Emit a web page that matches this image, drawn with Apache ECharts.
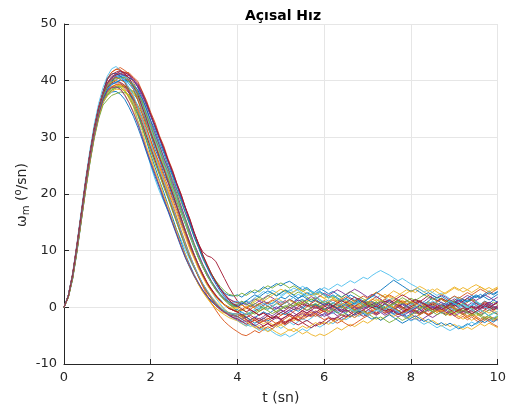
<!DOCTYPE html>
<html><head><meta charset="utf-8">
<script src="https://cdn.jsdelivr.net/npm/echarts@6/dist/echarts.min.js"></script>
<style>html,body{margin:0;padding:0;background:#fff}#c{width:509px;height:410px}</style>
</head><body><div id="c"></div>
<script>
const t = [
0,0.1,0.2,0.3,0.4,0.5,0.6,0.7,0.8,0.9,
1,1.1,1.2,1.3,1.4,1.5,1.6,1.7,1.8,1.9,
2,2.1,2.2,2.3,2.4,2.5,2.6,2.7,2.8,2.9,
3,3.1,3.2,3.3,3.4,3.5,3.6,3.7,3.8,3.9,
4,4.1,4.2,4.3,4.4,4.5,4.6,4.7,4.8,4.9,
5,5.1,5.2,5.3,5.4,5.5,5.6,5.7,5.8,5.9,
6,6.1,6.2,6.3,6.4,6.5,6.6,6.7,6.8,6.9,
7,7.1,7.2,7.3,7.4,7.5,7.6,7.7,7.8,7.9,
8,8.1,8.2,8.3,8.4,8.5,8.6,8.7,8.8,8.9,
9,9.1,9.2,9.3,9.4,9.5,9.6,9.7,9.8,9.9,
10];
const w1 = [0,2,5.6,10.6,16.2,21.8,26.8,31.2,34.8,37.4,
39.4,40.1,40.8,40.6,40.5,39.4,38.5,36.6,34.9,32.5,
30.4,27.9,26.1,23.6,22,19.5,17.7,15.1,13.2,10.8,
9.2,7.1,5.8,4.1,3.2,1.9,1.4,0.4,0.1,-0.5,
-0.4,-0.9,-1.3,-1.1,-0.6,-0.2,0.4,0.9,0.6,1.2,
1.8,1.5,2.1,1.7,1.1,1.4,0.8,0.3,0.6,-0.1,
-0.5,0.2,0.7,1.3,0.9,1.6,2.2,1.8,1.1,0.6,
1,0.4,-0.2,0.3,-0.4,-0.9,-0.5,0.1,0.6,0.2,
0.9,1.4,1,0.5,1.1,1.7,1.3,0.8,0.2,0.7,
1.2,0.6,0.1,-0.4,0.2,0.8,0.5,1.1,0.7,1.3,
0.9];
const w2 = [0,2.1,5.9,11.1,16.7,22.3,27.3,31.8,35.3,38,
40.3,41.5,42,42.3,41.8,41.2,39.7,38.2,36.1,33.6,
31.3,29,26.7,24.5,22.3,20.2,17.9,15.6,13.4,11.1,
9.3,7.4,5.8,4.3,3.1,2,1.1,0.5,-0.2,-0.5,
-0.8,-1.4,-1.1,-1.8,-2.3,-1.9,-2.5,-2.1,-1.6,-2,
-1.4,-0.9,-1.3,-0.7,-0.2,-0.6,0.1,0.5,0.1,0.7,
1.2,0.8,0.3,0.9,0.4,-0.2,0.3,-0.3,-0.8,-0.4,
-1,-0.5,-1.1,-0.6,-0.1,0.4,0,0.6,1.1,0.7,
0.2,-0.3,0.3,-0.2,-0.7,-0.3,-0.9,-0.4,0.1,-0.4,
0.2,0.7,0.3,0.9,1.4,1,0.5,1,0.6,0.1,
-0.3];
const w3 = [0,1.9,5.3,10.2,15.7,21.2,26.1,30.6,34,36.7,
38.1,38.9,39.1,38.5,37.6,36.1,34.6,32.5,30.5,28,
25.9,23.8,21.5,19.5,17.2,15.2,12.9,10.9,8.8,7.1,
5.5,4.1,2.8,1.7,0.7,-0.1,-0.8,-1.3,-1.8,-2.1,
-2.4,-2.9,-3.3,-3,-3.6,-3.9,-3.4,-3.8,-3.2,-2.7,
-3.1,-2.6,-2,-2.4,-1.8,-1.3,-1.7,-1.1,-0.6,-1,
-0.5,0.1,-0.4,0.2,0.7,0.3,0.9,0.4,-0.1,0.4,
0.9,1.5,1.1,1.7,2.3,1.8,1.3,0.8,1.3,0.7,
0.2,0.7,0.3,-0.3,0.2,-0.4,-0.9,-0.4,-1,-0.6,
-1.1,-1.7,-1.2,-1.8,-2.3,-1.8,-2.4,-1.9,-1.4,-2,
-1.6];
const w4 = [0,2,5.5,10.5,16,21.6,26.6,31,34.6,37.2,
38.7,39.9,40.1,40.7,40.2,40.1,38.8,38.1,35.9,34.3,
31.7,30.1,27.6,25.9,23.5,21.8,19.3,17.5,15,13.2,
10.7,9.1,7.1,5.9,4.3,3.3,2.1,1.5,0.6,0.2,
0.3,0.8,0.4,1,1.5,1.1,1.6,2.1,1.7,1.2,
0.7,1.2,0.6,0.1,0.5,-0.1,-0.6,-0.2,0.3,-0.3,
-0.8,-1.3,-0.9,-1.5,-1,-0.5,-0.9,-0.4,0.1,-0.3,
0.2,0.8,0.4,0.9,1.4,1,0.5,0,0.5,-0.1,
0.4,0.9,0.5,1,1.6,2.1,1.7,2.2,1.8,1.3,
0.8,1.3,0.9,0.4,-0.1,0.3,-0.2,0.4,0.9,0.5,
1];
const w5 = [0,1.8,5.2,10,15.5,21,25.9,30.3,33.8,36.4,
37.6,38.4,38.8,39.1,38.8,38.6,37.7,36.7,35,33.1,
31.1,29.2,27.1,25.1,23.1,21.1,19,16.9,14.8,12.7,
10.7,8.8,7.2,5.6,4.4,3.1,2.2,1.3,0.7,0.2,
0.1,0.6,1.1,0.7,1.3,1.8,1.4,2,2.5,2.1,
2.6,3.1,2.7,2.2,2.7,2.3,1.8,1.3,1.8,1.2,
0.8,0.3,0.8,0.4,-0.1,0.4,-0.1,-0.6,-0.2,0.3,
0.8,0.4,1,0.5,0.1,-0.4,0,-0.5,-1,-0.6,
-0.2,0.3,-0.1,0.4,1,0.6,1.1,1.6,1.2,0.7,
1.2,1.8,1.4,0.9,1.4,1,0.5,0,0.4,0.9,
0.5];
const w6 = [0,2.2,6.1,11.4,17.2,22.8,27.9,32.4,36,38.8,
40.8,42.1,42.5,41.8,40.2,38,35.6,33,30.2,27.6,
25,22.6,20.5,18.7,17,15.3,13.6,11.9,10.1,8.4,
6.9,5.5,4.1,2.9,1.7,0.7,-0.2,-0.9,-1.5,-1.9,
-2.3,-2.8,-3.3,-2.9,-3.5,-4.1,-3.6,-4.2,-3.8,-3.2,
-3.7,-3.2,-2.6,-3.1,-2.5,-2,-2.4,-1.9,-1.3,-1.8,
-1.2,-0.7,-1.1,-0.5,0,-0.4,0.2,0.7,0.3,0.8,
1.4,2,1.6,2.2,1.8,1.2,1.7,1.1,0.6,1.1,
0.5,1,0.5,0,-0.5,-0.1,-0.6,-0.2,0.3,-0.1,
-0.6,-0.2,0.4,0,0.5,1.1,0.6,0.1,0.6,0.2,
-0.2];
const w7 = [0,2,5.7,10.8,16.4,22,27,31.4,35,37.6,
39.6,40.6,41.1,41.2,40.9,40,38.9,37.1,35.3,33,
30.9,28.6,26.6,24.3,22.4,20.1,18.1,15.7,13.6,11.3,
9.4,7.5,5.9,4.4,3.2,2.2,1.2,0.5,-0.1,-0.5,
-0.9,-1.5,-2.1,-2.6,-2.2,-2.8,-3.3,-2.9,-3.4,-3,
-2.5,-2.9,-2.3,-1.8,-2.2,-1.6,-1.1,-1.5,-0.9,-0.4,
-0.8,-0.2,0.3,-0.1,0.5,1,0.6,0.1,0.6,1.1,
0.6,0.1,-0.4,0,-0.6,-1.1,-0.6,-1.2,-0.8,-0.3,
-0.7,-0.2,0.3,-0.2,0.4,0.9,0.5,0,0.5,-0.1,
0.4,-0.1,-0.6,-0.2,-0.8,-0.3,0.2,-0.3,0.3,-0.2,
0.2];
const w8 = [0,1.7,5,9.8,15.3,20.7,25.7,30.1,33.5,36.1,
37.4,38,38.1,37.6,36.7,35.3,33.7,31.8,29.7,27.4,
25.3,23.1,21.1,18.9,16.9,14.8,12.7,10.6,8.7,7,
5.5,4.1,3,2,1.2,0.5,-0.1,-0.6,-1,-1.3,
-1.6,-1.2,-1.7,-2.2,-1.8,-1.3,-0.8,-1.2,-0.7,-0.2,
0.3,0.8,1.4,1,1.6,2.1,2.6,2.2,2.8,3.3,
2.9,2.4,2.8,2.3,1.8,2.3,1.7,1.2,1.6,1.1,
0.6,1.1,0.6,0.1,0.6,1.2,0.8,0.3,-0.2,0.2,
-0.3,-0.8,-0.3,-0.9,-1.4,-1,-0.5,-1,-0.5,0,
0.5,0.1,0.6,1.2,1.7,2.2,1.8,2.4,2.9,2.4,
2.8];
const w9 = [0,2.1,5.8,10.9,16.5,22.1,27.1,31.5,35.1,37.8,
39.6,40.7,41.2,41.7,41.5,41.4,40.6,39.9,38.2,36.5,
34.4,32.6,30.3,28.5,26.2,24.3,21.9,20,17.6,15.6,
13.2,11.3,9.2,7.6,5.9,4.6,3.3,2.4,1.5,1,
0.8,0.4,-0.1,0.4,-0.2,-0.7,-0.3,0.2,-0.3,-0.9,
-1.4,-1,-1.5,-2,-1.6,-2.1,-1.7,-1.2,-1.6,-1.1,
-0.6,-1.1,-0.6,-0.1,-0.5,0.1,0.6,0.2,0.7,1.2,
0.8,1.3,1.9,1.4,0.9,1.4,0.9,0.4,0,-0.5,
-0.1,-0.6,-1.1,-0.7,-1.3,-0.8,-0.3,-0.8,-1.4,-0.9,
-1.5,-2,-1.6,-2.2,-1.7,-2.3,-2.8,-2.3,-1.8,-2.4,
-2];
const w10 = [0,1.9,5.4,10.3,15.8,21.3,26.3,30.7,34.2,36.8,
37.9,38.7,39,39.4,39.1,38.8,37.9,36.9,35,33.2,
31.1,29,27.1,24.9,23,20.9,18.9,16.7,14.8,12.6,
10.6,8.8,7,5.7,4.2,3.1,2,1.3,0.5,0,
-0.1,-0.6,-0.2,0.3,-0.1,0.5,1,0.6,1.1,1.6,
1.2,0.7,1.2,0.8,0.3,0.8,1.3,0.9,1.5,2,
1.6,2.1,1.7,1.2,1.6,1.1,0.6,1,0.5,1.1,
1.6,2.1,2.7,2.2,1.8,2.3,2.9,2.5,2,2.5,
3,2.6,3.2,2.7,2.2,2.7,3.3,2.8,2.4,2.9,
3.4,3,3.5,3.1,2.6,3.1,3.6,3.2,2.7,3.2,
3.6];
const w11 = [0,1.9,5.4,10.4,15.9,21.4,26.4,30.8,34.4,37,
38.6,39.5,39.6,39.6,38.7,37.8,36.2,34.6,32.2,30.2,
27.9,25.9,23.6,21.6,19.4,17.3,15,12.9,10.7,8.9,
7.2,5.6,4.1,2.8,1.7,0.7,-0.2,-0.8,-1.3,-1.8,
-2.2,-2.6,-2.2,-2.8,-3.3,-2.8,-2.3,-2.8,-2.3,-1.8,
-2.2,-1.7,-1.2,-1.6,-1.1,-0.6,-1,-0.5,-1,-1.5,
-1.1,-1.6,-2.1,-1.7,-2.2,-1.8,-1.3,-1.8,-1.3,-0.8,
-1.2,-0.7,-0.2,-0.6,-1.1,-0.7,-1.2,-1.7,-1.3,-1.8,
-2.3,-1.9,-2.4,-1.9,-1.4,-1.8,-1.3,-0.8,-1.2,-0.7,
-0.2,-0.6,-1.1,-0.7,-1.2,-0.8,-1.3,-0.9,-0.4,-0.8,
-1.2];
const w12 = [0,1.8,5.1,9.9,15.3,20.7,25.6,29.9,33.3,35.7,
36.6,37.4,37.7,38,37.9,37.5,36.8,35.7,34.2,32.4,
30.5,28.6,26.6,24.6,22.7,20.7,18.6,16.6,14.6,12.5,
10.6,8.7,7.1,5.6,4.3,3.1,2.1,1.3,0.6,0,
-0.7,-0.3,-0.8,-1.3,-0.9,-0.4,0.1,-0.3,0.2,0.7,
0.3,-0.2,0.3,0.9,0.5,0,-0.5,-0.1,0.4,0,
0.5,1,1.6,2.1,1.7,2.3,2.8,2.4,1.9,1.5,
1,0.5,0.9,0.4,-0.1,0.3,-0.2,-0.7,-0.3,0.2,
-0.3,-0.8,-0.4,0.1,0.6,0.2,0.7,0.3,-0.2,-0.7,
-1.2,-0.8,-1.3,-0.9,-0.4,-0.9,-1.5,-1,-1.5,-2,
-1.6];
const w13 = [0,2.1,5.7,10.8,16.4,21.9,27,31.4,35,37.6,
39.5,40.6,41,41.3,40.7,40.1,38.7,37.2,35.1,33.1,
30.8,28.8,26.4,24.5,22.2,20.3,17.9,15.9,13.5,11.5,
9.3,7.4,5.6,4.1,2.8,1.6,0.6,-0.3,-1,-1.5,
-1.9,-2.4,-2.9,-3.4,-3,-3.6,-4.1,-3.7,-4.3,-4.8,
-5.1,-4.7,-5.2,-4.8,-4.3,-3.8,-4.2,-3.6,-3.1,-3.5,
-3,-2.5,-2.9,-2.3,-1.8,-2.2,-1.7,-1.2,-1.6,-1.1,
-0.6,-1,-0.5,0,0.5,0.1,0.6,1.1,0.7,0.2,
0.7,0.2,-0.3,0.1,-0.4,-0.9,-0.5,-1,-0.6,-0.1,
-0.6,-0.2,0.3,-0.1,0.4,0.9,0.4,-0.1,0.3,-0.2,
0.3];
const w14 = [0,2,5.6,10.7,16.3,21.9,26.9,31.3,34.9,37.5,
39.1,40,40.6,40.8,41,40.5,40.1,39,37.6,35.7,
33.8,31.8,29.9,27.8,25.8,23.7,21.7,19.5,17.5,15.2,
13.1,11.2,9.8,9.1,8.8,8.1,6.6,5.1,3.6,2.3,
1.1,0.5,-0.1,-0.5,-0.9,-1.4,-1,-1.5,-2,-1.6,
-2.1,-2.6,-2.2,-2.7,-3.1,-2.7,-3.2,-3.6,-3.1,-2.6,
-3,-2.4,-1.9,-2.3,-1.8,-1.3,-1.7,-1.1,-0.6,-1,
-0.5,0,-0.4,0.1,0.7,0.3,0.8,1.3,0.9,0.4,
0.9,1.4,1,1.5,2.1,1.6,1.1,1.6,1.2,0.7,
0.2,0.7,0.2,-0.3,0.1,-0.4,-0.9,-0.5,0,-0.5,
-0.1];
const w15 = [0,2,5.5,10.5,16.1,21.7,26.7,31.1,34.7,37.3,
39,39.9,40.6,40.7,41,40.5,40.1,38.9,37.7,35.7,
33.8,31.7,29.8,27.6,25.7,23.5,21.6,19.3,17.4,15.1,
13,10.9,9.1,7.2,5.8,4.4,3.4,2.5,2.1,2,
2.2,1.8,2.4,2.9,2.5,3,3.6,3.2,3.7,4.2,
3.8,4.3,4.6,4.1,3.6,3.1,3.5,2.9,2.4,2.8,
2.3,1.8,2.2,1.7,1.2,1.6,1.1,0.6,1,0.5,
0,0.5,0.1,-0.4,0,-0.6,-1.1,-0.6,-1.1,-1.6,
-1.2,-0.7,-1.2,-0.8,-0.3,0.2,-0.2,0.3,0.8,0.4,
0.9,1.5,1,1.6,2.1,1.7,2.3,1.8,1.3,1.8,
2.3];
const w16 = [0,2.1,5.9,11.1,16.7,22.3,27.3,31.7,35.3,38,
40.4,41.5,42,41.9,41.2,40,38.5,36.6,34.3,31.9,
29.4,27.1,24.9,22.6,20.4,18.2,15.9,13.6,11.4,9.3,
7.3,5.4,3.7,2.1,0.7,-0.5,-1.6,-2.5,-3.2,-3.8,
-4.3,-4.8,-5,-4.6,-4.1,-4.5,-3.9,-3.4,-3.8,-3.2,
-2.7,-3.1,-2.6,-2,-2.4,-1.8,-1.3,-1.7,-1.2,-0.7,
-0.2,-0.6,-0.1,0.4,0,0.6,0.1,-0.4,0,0.5,
0.1,-0.4,-0.9,-0.5,-1,-0.6,-0.1,-0.5,-1.1,-0.7,
-1.2,-1.7,-1.3,-0.8,-1.2,-0.7,-0.2,-0.6,-0.1,0.4,
0,-0.5,-1,-1.5,-1.1,-1.6,-2.1,-1.7,-2.2,-1.8,
-2.3];
const w17 = [0,1.9,5.3,10.2,15.7,21.2,26.2,30.6,34.1,36.7,
38.3,39,39.3,39.1,38.3,37.3,35.8,34.1,31.9,29.8,
27.6,25.6,23.4,21.4,19.2,17.2,14.9,12.9,10.7,8.9,
7.1,5.6,4.1,3,1.9,1,0.3,-0.4,-0.9,-1.3,
-1.7,-1.3,-1.8,-2.3,-1.9,-2.4,-2.9,-2.5,-3,-3.5,
-3.1,-3.6,-4.1,-3.7,-4.2,-4.7,-4.3,-4.8,-5.1,-4.7,
-5,-4.6,-4.1,-3.6,-4,-3.5,-3,-3.4,-2.9,-2.4,
-2.8,-2.3,-1.8,-2.2,-1.7,-1.2,-1.6,-1.1,-1.5,-2,
-1.6,-2.1,-1.7,-2.2,-2.7,-2.3,-2.8,-3.3,-2.9,-3.4,
-3,-3.5,-3.9,-3.5,-3.9,-3.4,-2.9,-3.3,-2.8,-3.2,
-3.6];
const w18 = [0,2,5.6,10.6,16.2,21.8,26.8,31.2,34.8,37.5,
39.3,40.3,40.7,41.1,41,40.9,40.1,39.3,37.6,36,
33.8,32,29.8,28,25.7,23.9,21.6,19.7,17.4,15.4,
13,11.1,9,7.4,5.8,4.5,3.2,2.3,1.5,1.1,
0.9,0.5,1,0.6,0.1,0.6,1.1,0.7,0.2,-0.3,
0.2,-0.2,0.3,0.8,1.3,0.9,1.4,1.9,1.5,2,
2.5,2.1,2.6,3.1,2.7,2.2,2.7,3.2,2.8,2.3,
1.8,2.3,1.9,1.4,0.9,1.3,0.8,0.3,0.7,0.2,
-0.3,0.1,-0.4,-0.9,-0.5,0,-0.4,0.1,0.6,0.2,
0.7,1.2,0.8,0.3,0.8,0.4,-0.1,0.4,0.9,0.5,
1];
const w19 = [0,1.8,5.2,10.1,15.6,21,26,30.3,33.8,36.3,
37.5,38.3,38.7,38.9,39,38.6,38.1,37.2,35.8,34.1,
32.3,30.4,28.5,26.5,24.6,22.6,20.6,18.6,16.6,14.5,
12.5,10.6,8.8,7.3,5.9,4.7,3.7,2.9,2.3,2.1,
2,2.5,2.1,2.6,3.1,2.7,3.3,3.8,3.4,3.9,
4.3,3.9,3.4,3.8,3.3,2.8,3.2,2.7,2.2,2.6,
2.1,1.6,2,1.5,1,1.4,0.9,1.3,0.8,0.3,
0.7,0.2,-0.3,0.1,-0.4,0,0.5,1,0.6,1.1,
1.6,1.2,1.7,2.2,1.8,1.3,1.8,1.4,0.9,1.3,
0.8,0.3,0.7,0.2,-0.3,0.1,-0.4,-0.9,-0.5,0,
-0.4];
const w20 = [0,2,5.5,10.5,16,21.6,26.6,31,34.6,37.2,
39.1,40.2,40.6,41,40.7,40.4,39.4,38.4,36.5,34.6,
32.2,30.3,28,26.1,23.9,22,19.7,17.8,15.4,13.5,
11.1,9.4,7.5,6.1,4.6,3.5,2.4,1.7,1,0.8,
1.1,0.7,1.2,0.7,0.2,-0.3,0.1,-0.4,0.1,0.6,
1.1,0.7,1.3,1.8,2.3,1.9,2.4,2.9,2.5,3,
3.5,3.1,3.6,4.1,3.7,4.2,4.7,4.3,4.8,5.3,
5,5.6,6.1,6.5,6.1,5.7,5.2,4.7,5.1,4.6,
4.1,3.7,3.2,2.7,3.1,2.6,2.1,2.5,2,1.5,
1.9,1.4,0.9,1.3,0.8,0.3,0.7,0.2,-0.3,0.1,
-0.4];
const w21 = [0,1.9,5.4,10.3,15.9,21.4,26.4,30.8,34.3,37,
38.8,39.6,40,39.7,39.2,37.9,36.7,34.7,32.7,30.3,
28.3,26,24,21.7,19.8,17.4,15.4,13,11.1,8.9,
7.3,5.6,4.1,2.8,1.7,0.8,-0.1,-0.8,-1.4,-1.8,
-2,-2.5,-3,-2.6,-3.2,-3.7,-3.3,-2.8,-3.3,-2.8,
-2.3,-2.8,-2.3,-1.8,-2.2,-2.7,-2.3,-2.8,-3.3,-2.9,
-2.4,-1.9,-2.3,-1.8,-1.3,-1.7,-1.2,-0.7,-1.1,-1.6,
-1.2,-0.7,-1.1,-0.6,-0.1,-0.5,0,0.5,0.1,-0.4,
-0.9,-0.5,-1,-0.5,0,-0.4,0.1,-0.3,-0.8,-1.3,
-0.9,-0.4,-0.8,-0.3,0.2,-0.2,0.3,0.8,0.4,-0.1,
0.3];
const w22 = [0,2.1,5.8,11,16.6,22.2,27.2,31.6,35.2,37.9,
40.4,41.2,41.3,40.8,39.7,38.2,36.4,34.2,31.9,29.4,
26.9,24.7,22.4,20.3,18,15.9,13.6,11.5,9.3,7.5,
5.8,4.3,3,1.9,1,0.3,-0.3,-0.7,-1,-1.3,
-1.6,-2.1,-1.7,-2.3,-2.8,-2.4,-1.9,-2.4,-1.9,-1.4,
-0.9,-1.3,-0.8,-0.3,-0.7,-0.1,0.4,0,0.5,0.1,
-0.4,0,-0.5,-1,-0.6,-1.1,-1.6,-1.2,-0.7,-1.1,
-1.6,-2.1,-1.7,-2.3,-1.8,-1.3,-1.8,-2.3,-2.8,-2.4,
-1.9,-1.5,-2,-2.5,-2.1,-2.6,-3.1,-2.7,-3.2,-2.8,
-3.3,-3.8,-3.4,-2.9,-3.3,-2.8,-2.3,-2.7,-2.2,-2.6,
-2.1];
const w23 = [0,1.9,5.4,10.3,15.8,21.3,26.3,30.7,34.2,36.9,
38.2,38.9,39.3,39.3,39,38.1,37,35.4,33.6,31.5,
29.5,27.3,25.4,23.2,21.3,19.1,17.1,14.8,12.8,10.6,
8.8,7,5.5,4.1,2.9,2,1.1,0.5,-0.1,-0.5,
-0.8,-0.4,0.1,-0.3,0.2,0.7,0.3,0.8,1.3,0.9,
0.4,0.9,1.4,1,0.5,0.9,0.4,-0.1,0.3,-0.2,
0.3,0.8,1.3,0.9,1.4,1.9,1.5,1,1.5,2,
1.6,2.1,2.6,2.2,1.7,2.2,1.8,1.3,0.8,1.2,
0.7,1.2,0.8,0.3,0.8,0.4,0.9,1.4,1,1.5,
2,1.6,2.1,2.6,2.2,2.7,3.2,2.8,2.3,2.8,
3.3];
const w24 = [0,2,5.6,10.7,16.3,21.9,26.9,31.3,34.9,37.5,
39.4,39.8,40.1,39.2,38.5,36.8,35.4,33,31.2,28.4,
26.5,23.9,22.2,19.6,17.9,15.3,13.5,10.9,9.3,7.1,
5.6,4,2.7,1.6,0.6,-0.2,-0.7,-1,-1.3,-1.4,
-1.6,-2,-2.5,-3.1,-3.6,-3.2,-3.8,-4.3,-3.9,-4.4,
-4.8,-4.4,-3.9,-4.3,-3.8,-3.3,-3.7,-3.2,-2.7,-3.1,
-2.6,-3,-2.5,-2,-2.4,-1.9,-1.4,-1.8,-1.3,-0.8,
-1.2,-0.7,-0.2,-0.6,-0.1,0.4,0,0.5,1,0.6,
1.1,0.7,0.2,-0.3,0.1,-0.4,-0.9,-0.5,-1,-1.5,
-1.1,-1.6,-2.1,-1.7,-1.2,-1.6,-1.1,-0.6,-1,-0.5,
-0.9];
const w25 = [0,2.1,5.8,10.9,16.5,22.1,27.1,31.5,35.1,37.7,
39.6,40.7,41.2,41.6,41.4,41,40.1,38.9,37.1,35,
32.8,30.7,28.6,26.4,24.4,22.2,20.1,17.9,15.7,13.5,
11.3,9.4,7.6,6,4.6,3.4,2.3,1.5,0.9,0.6,
0.5,1,0.6,0.1,0.6,1.1,0.7,0.2,-0.3,0.1,
-0.4,-0.9,-0.5,-1,-1.5,-1.1,-1.6,-1.2,-0.7,-1.1,
-1.6,-1.2,-0.7,-0.2,-0.6,-0.1,0.4,0,-0.5,-0.1,
0.4,0.9,0.5,1,0.6,0.1,-0.4,0,-0.5,-1,
-0.6,-1.1,-0.7,-0.2,0.3,-0.1,0.4,0.9,0.5,1,
1.5,1.1,1.6,2.1,1.7,1.2,1.7,2.2,1.8,1.3,
1.8];
const w26 = [0,1.8,5.2,10.1,15.6,21.1,26.1,30.5,34,36.6,
37.8,38.6,38.9,38.8,38.1,37.1,35.6,33.9,31.8,29.7,
27.6,25.4,23.4,21.2,19.3,17,15,12.7,10.8,8.7,
7,5.4,3.9,2.6,1.5,0.5,-0.3,-0.8,-1,-1.1,
-1.2,-1.7,-1.3,-0.8,-1.2,-0.7,-0.2,-0.6,-1.1,-0.7,
-0.2,0.3,-0.1,0.4,0.9,0.5,1,1.5,1.1,0.6,
1.1,0.7,0.2,0.6,0.1,-0.4,0,-0.5,-1,-0.6,
-1.1,-1.6,-2.1,-1.7,-2.2,-2.7,-2.3,-1.8,-2.3,-1.9,
-1.4,-0.9,-1.3,-0.8,-0.3,-0.7,-0.2,0.3,-0.1,0.4,
-0.1,-0.6,-0.2,-0.7,-1.2,-0.8,-1.3,-1.8,-1.4,-0.9,
-1.3];
const w27 = [0,2,5.5,10.5,16.1,21.6,26.6,31,34.5,37.1,
38.5,39.4,39.8,40.1,39.9,39.5,38.6,37.5,35.8,33.7,
31.6,29.5,27.5,25.3,23.4,21.2,19.2,16.9,14.9,12.7,
10.7,8.8,7.2,5.6,4.3,3.1,2.1,1.3,0.7,0.4,
0.5,1,0.6,1.1,1.7,2.2,2.8,2.4,3,2.6,
2.1,2.6,3.1,2.7,3.2,3.7,3.3,2.8,2.3,2.7,
2.2,1.7,2.1,1.6,1.1,1.5,1,0.5,0.9,0.4,
-0.1,0.3,-0.2,-0.7,-0.3,-0.8,-1.3,-0.9,-1.4,-1.9,
-2.4,-2,-2.5,-3,-2.6,-3.1,-3.6,-3.2,-3.7,-4.1,
-3.7,-3.2,-3.6,-3.1,-2.6,-3,-2.5,-2,-2.4,-1.9,
-1.4];
const w28 = [0,2.1,5.8,11,16.6,22.2,27.2,31.7,35.3,37.9,
40.2,41.1,41.5,41.8,41.2,40.5,39.1,37.6,35.4,33.3,
30.8,28.8,26.4,24.5,22.1,20.2,17.8,15.8,13.4,11.4,
9.2,7.5,5.7,4.3,3,2,1.1,0.4,-0.2,-0.5,
-0.8,-1.3,-1.8,-1.4,-1.9,-2.4,-2,-1.5,-1.9,-1.4,
-0.9,-0.5,0,-0.4,0.1,0.6,0.2,0.7,1.2,0.8,
0.3,-0.2,0.2,-0.3,-0.8,-0.4,-0.9,-1.4,-1,-0.5,
0,0.5,0.1,0.6,1.1,0.7,1.2,1.7,2.2,1.8,
1.3,0.8,1.2,0.7,0.2,0.6,0.1,-0.4,0,0.5,
1,0.6,1.1,1.6,1.2,0.7,0.2,0.6,0.1,-0.4,
0];
const w29 = [0,1.9,5.4,10.4,15.9,21.4,26.4,30.8,34.3,36.9,
38.4,39.3,39.7,40.1,40,39.9,39.2,38.4,36.8,35.1,
33,31.2,29.1,27.2,25,23.2,20.9,19,16.7,14.7,
12.4,10.6,8.6,7,5.4,4.1,2.9,1.9,1,0.4,
0.1,0.6,1.1,1.7,2.2,1.8,2.4,2.9,2.5,2,
2.5,3,2.6,2.1,1.6,2,1.5,1,1.4,0.9,
0.4,0.8,0.3,-0.2,0.2,0.7,0.3,0.8,1.3,0.9,
1.4,1.9,2.5,3,3.6,4.2,4.8,4.3,3.8,3.3,
2.8,3.2,2.7,2.2,2.6,2.1,1.6,2,1.5,1,
0.5,0.9,1.4,1,1.5,2,1.6,2.1,2.6,2.2,
2.7];
const w30 = [0,2,5.7,10.8,16.4,22,27,31.4,35,37.6,
39.4,40.2,40.6,40.2,39.7,38.4,37.2,35.2,33.1,30.8,
28.6,26.4,24.3,22,19.9,17.6,15.5,13.2,11.1,8.9,
7.1,5.4,3.9,2.6,1.5,0.5,-0.3,-0.8,-1,-1.1,
-1.2,-1.7,-2.2,-2.7,-2.3,-2.8,-2.4,-1.9,-2.4,-2.9,
-2.5,-2,-1.5,-1.9,-1.4,-0.9,-1.3,-0.8,-1.2,-1.7,
-2.2,-1.8,-2.3,-2.8,-2.4,-2.9,-3.3,-2.9,-2.4,-1.9,
-1.5,-1,-1.4,-0.9,-0.4,-0.8,-0.3,0.2,-0.2,-0.7,
-0.3,-0.8,-1.3,-0.9,-1.4,-1,-0.5,-0.9,-0.4,0.1,
-0.3,-0.8,-1.3,-1.8,-1.4,-1.9,-2.4,-2,-2.5,-3,
-3.4];
const w31 = [0,1.8,5.2,10.1,15.5,20.9,25.9,30.3,33.7,36.2,
37.3,38.1,38.5,38.4,38.3,37.3,36.3,34.6,33,30.8,
28.9,26.8,24.8,22.7,20.8,18.6,16.6,14.4,12.4,10.3,
8.6,6.8,5.3,3.9,2.8,1.8,1,0.4,0,-0.2,
-0.1,0.4,0,0.5,1,1.5,1.1,1.6,2.1,2.7,
3.2,2.8,2.3,2.8,3.3,2.9,2.4,2,2.5,2.1,
1.6,1.1,1.5,1,0.5,0.9,0.4,-0.1,0.3,0.8,
0.4,0.9,1.4,1,1.5,2,1.6,2.1,2.6,3.1,
2.7,3.2,3.7,3.3,2.8,3.2,2.7,2.2,2.6,3.1,
3.6,3.2,2.7,3.1,3.6,4,3.6,3.1,3.5,3,
3.4];
const w32 = [0,1.9,5.3,10.2,15.7,21.2,26.2,30.5,34,36.6,
38.2,38.8,38.9,38.5,37.4,36.1,34.3,32.4,30.1,27.8,
25.6,23.5,21.4,19.2,17.2,15,12.9,10.8,8.8,7.2,
5.6,4.3,3,2,1.1,0.3,-0.4,-0.9,-1.3,-1.5,
-1.6,-2.1,-2.6,-2.2,-1.7,-2.1,-1.6,-1.1,-1.5,-1,
-0.5,-0.9,-0.4,0.1,-0.3,0.2,0.7,0.3,-0.2,0.2,
0.7,0.3,-0.2,-0.7,-0.3,-0.8,-0.4,0.1,-0.3,0.2,
-0.3,-0.8,-1.3,-0.9,-1.4,-1,-0.5,-1,-1.5,-1.1,
-0.6,-0.1,0.4,0,0.5,0.1,-0.4,0,-0.5,-1,
-1.5,-1.1,-0.6,-1,-0.5,0,-0.4,0.1,0.6,0.2,
-0.2];
const w33 = [0,2,5.5,10.5,16.1,21.7,26.7,31.1,34.7,37.3,
39,39.7,40.4,40.4,40.6,39.8,39.3,37.8,36.4,34,
32.1,29.7,28,25.5,23.9,21.4,19.7,17.1,15.4,12.8,
11.1,8.8,7.4,5.6,4.5,3.1,2.3,1.3,0.9,0.4,
0.6,1.1,0.6,0.2,0.7,0.3,-0.2,0.2,-0.3,-0.8,
-0.4,0.1,0.6,0.2,0.7,1.2,0.8,0.3,0.7,0.2,
-0.3,-0.8,-0.4,-0.9,-1.4,-1,-0.5,-0.9,-0.4,0.1,
0.6,0.2,0.7,1.2,0.8,0.3,0.7,1.2,1.7,1.3,
0.8,0.3,-0.2,0.2,-0.3,-0.8,-1.3,-0.9,-1.4,-0.9,
-0.4,-0.9,-0.5,-1,-1.5,-1.1,-1.6,-2.1,-1.7,-2.2,
-1.8];
const w34 = [0,2.1,5.7,10.8,16.4,22,27,31.4,35,37.7,
39.6,40.5,40.9,40.6,40,38.8,37.4,35.5,33.3,31,
28.6,26.5,24.2,22.2,19.9,17.8,15.5,13.4,11.1,9.2,
7.3,5.7,4.2,2.9,1.8,0.8,0,-0.6,-1,-1.1,
-1.2,-0.8,-1.3,-0.8,-0.3,0.2,0.7,0.3,0.8,1.3,
1.8,2.4,2.9,3.4,3,2.5,2,2.4,1.9,1.4,
0.9,1.3,0.8,0.3,0.7,0.2,-0.3,-0.8,-0.4,-0.9,
-1.4,-1,-0.5,-0.9,-0.4,0.1,-0.3,-0.8,-1.3,-0.9,
-0.4,0,0.5,1,0.6,1.1,0.7,0.2,0.6,1.1,
0.7,0.2,0.6,0.1,-0.4,-0.9,-0.5,-1,-1.5,-1.1,
-0.7];
const w35 = [0,2,5.7,10.8,16.4,22,27,31.4,35,37.6,
39.6,40.5,41,41.3,41.4,41.1,40.4,39.5,38,36.2,
34.1,32.2,30.1,28.2,26,24.1,21.9,19.9,17.6,15.6,
13.3,11.2,9.3,7.5,5.9,4.5,3.3,2.2,1.3,0.6,
0.2,-0.3,-0.8,-0.4,-0.9,-1.4,-1,-1.5,-2,-1.6,
-2.1,-1.7,-1.2,-1.6,-1.1,-0.6,-1,-0.5,0,-0.4,
0.1,0.6,0.2,0.7,1.2,0.8,1.3,1.8,1.4,0.9,
0.4,-0.1,0.3,-0.2,-0.7,-0.3,-0.8,-1.3,-0.9,-0.4,
0.1,0.5,1,0.6,0.1,-0.4,0,0.5,0.1,-0.4,
-0.9,-0.5,-0.1,-0.6,-1.1,-0.7,-0.2,0.3,-0.1,0.4,
0.8];
const xTicks = [0,2,4,6,8,10];
const yTicks = [-10,0,10,20,30,40,50];

const runs = [w1,w2,w3,w4,w5,w6,w7,w8,w9,w10,w11,w12,w13,w14,w15,w16,w17,w18,
  w19,w20,w21,w22,w23,w24,w25,w26,w27,w28,w29,w30,w31,w32,w33,w34,w35];
const colors = ['#0072BD','#D95319','#EDB120','#7E2F8E','#77AC30','#4DBEEE','#A2142F'];
const FONT = 'DejaVu Sans';
const chart = echarts.init(document.getElementById('c'), null, {renderer:'canvas'});
chart.setOption({
  animation: false,
  backgroundColor: '#fff',
  textStyle: {fontFamily: FONT},
  title: {text: 'Açısal Hız', left: 278, top: 4, textAlign: 'center',
    textStyle: {fontFamily: FONT, fontSize: 14, fontWeight: 'bold', color: '#000'}},
  grid: {left: 64, right: 9, top: 24, bottom: 44, containLabel: false},
  graphic: [{
    type: 'text', x: 22, y: 195, rotation: Math.PI / 2, silent: true,
    style: {
      text: '{w|ω}{sub|m}{w| (}{sup|o}{w|/sn)}',
      align: 'center', verticalAlign: 'middle',
      fontFamily: FONT, fontSize: 14, fill: '#262626',
      rich: {w: {fontSize: 14, fontFamily: FONT, fill: '#262626'},
             sub: {fontSize: 10, fontFamily: FONT, fill: '#262626', padding: [8,0,0,0]},
             sup: {fontSize: 10, fontFamily: FONT, fill: '#262626', padding: [0,0,8,0]}}
    }
  }],
  xAxis: {type: 'value', min: xTicks[0], max: xTicks[xTicks.length-1], interval: 2,
    name: 't (sn)', nameLocation: 'middle', nameGap: 27,
    nameTextStyle: {fontFamily: FONT, fontSize: 14, color: '#262626'},
    axisLine: {show: true, onZero: false, lineStyle: {color: '#262626', width: 1}},
    axisTick: {show: true, inside: true, length: 5, lineStyle: {color: '#262626'}},
    axisLabel: {color: '#262626', fontSize: 13, margin: 7, fontFamily: FONT},
    splitLine: {show: true, lineStyle: {color: '#e6e6e6', width: 1}}},
  yAxis: {type: 'value', min: yTicks[0], max: yTicks[yTicks.length-1], interval: 10,
    axisLine: {show: true, onZero: false, lineStyle: {color: '#262626', width: 1}},
    axisTick: {show: true, inside: true, length: 5, lineStyle: {color: '#262626'}},
    axisLabel: {color: '#262626', fontSize: 13, margin: 7, fontFamily: FONT},
    splitLine: {show: true, lineStyle: {color: '#e6e6e6', width: 1}}},
  series: runs.map((r, i) => ({
    type: 'line', symbol: 'none', silent: true, clip: true,
    data: t.map((x, j) => [x, r[j]]),
    lineStyle: {width: 0.9, color: colors[i % 7]}
  }))
});
</script></body></html>
